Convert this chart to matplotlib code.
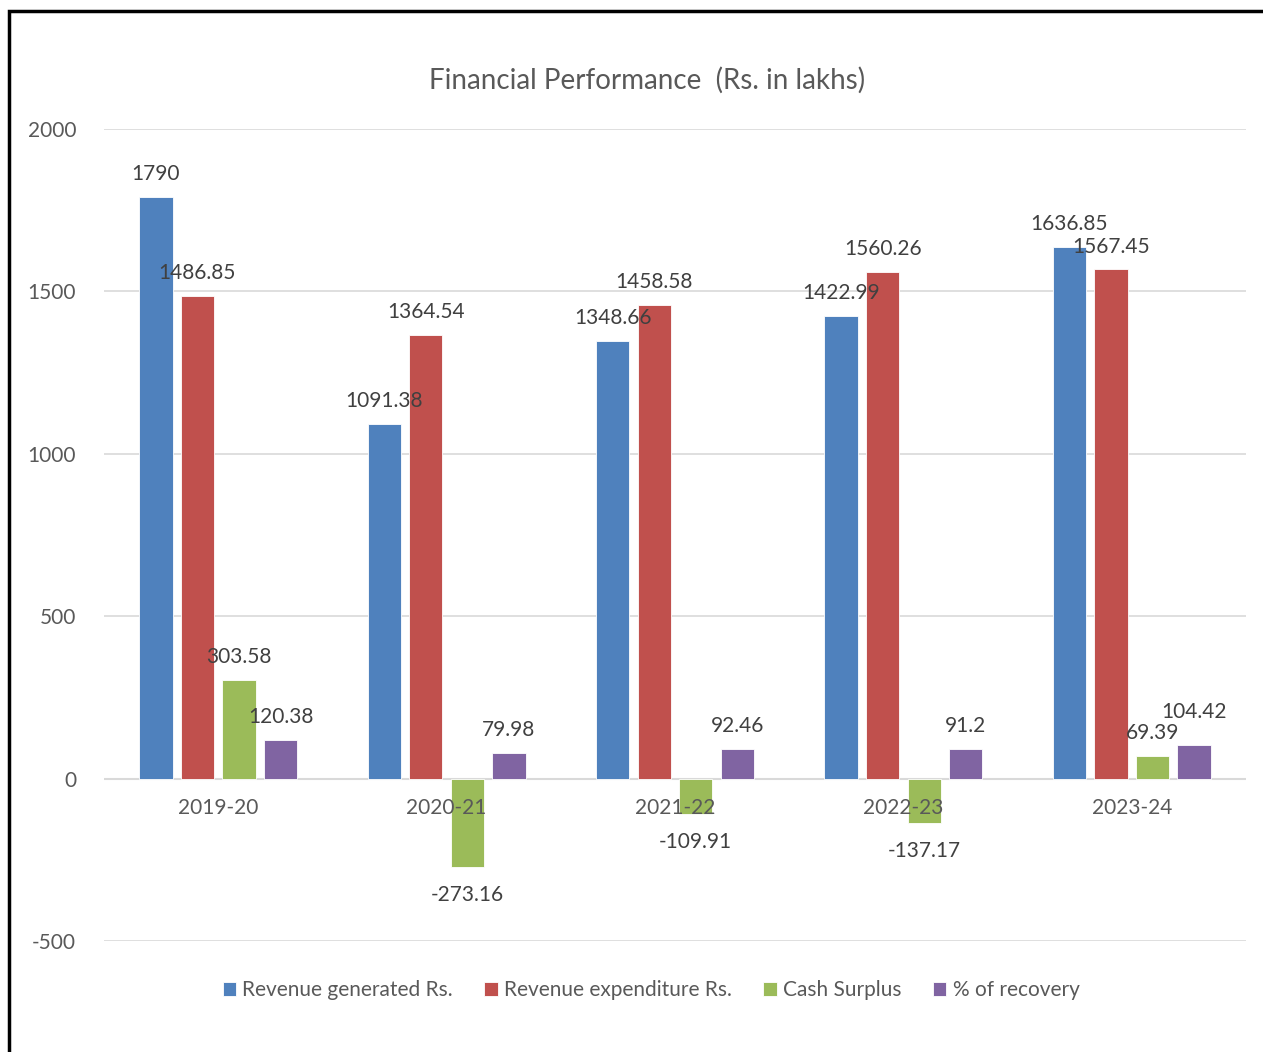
import numpy as np
import matplotlib.pyplot as plt
from matplotlib.patches import Rectangle

# data
years = ["2019-20", "2020-21", "2021-22", "2022-23", "2023-24"]
rev_generated = [1790, 1091.38, 1348.66, 1422.99, 1636.85]
rev_expenditure = [1486.85, 1364.54, 1458.58, 1560.26, 1567.45]
cash_surplus = [303.58, -273.16, -109.91, -137.17, 69.39]
recovery = [120.38, 79.98, 92.46, 91.2, 104.42]

series_names = ["Revenue generated Rs.", "Revenue expenditure Rs.", "Cash Surplus", "% of recovery"]
series = [rev_generated, rev_expenditure, cash_surplus, recovery]
colors = ["#4F81BD", "#C0504D", "#9BBB59", "#8064A2"]

plt.rcParams['font.family'] = ['Lato', 'DejaVu Sans']
gray = "#595959"

fig = plt.figure(figsize=(12.63, 10.52), dpi=100)
ax = fig.add_axes([104/1263, 1-941/1052, (1246-104)/1263, (941-129)/1052])

# outer frame (only top and left visible)
fig.patches.append(Rectangle((9/1263, -0.1), 1.2, 1-11/1052+0.1, transform=fig.transFigure,
                             fill=False, edgecolor="black", linewidth=2.5))

x = np.arange(len(years))
step = 0.182
width = 0.146
for i, (vals, name, c) in enumerate(zip(series, series_names, colors)):
    pos = x + (i - 1.5) * step
    ax.bar(pos, vals, width, color=c, edgecolor="white", linewidth=0.6, label=name, zorder=3)
    for j, (p, v) in enumerate(zip(pos, vals)):
        if v >= 0:
            dy = 40
            if i == 3 and j == 4:
                # label nudged up in the original to clear its neighbour
                dy = 70
            ax.text(p, v + dy, f"{v:g}", ha="center", va="bottom", fontsize=15, color="#404040", zorder=5)
        else:
            ax.text(p, v - 55, f"{v:g}", ha="center", va="top", fontsize=15, color="#404040", zorder=5)

ax.set_xlim(-0.5, 4.5)
ax.set_ylim(-500, 2000)
ax.set_yticks([-500, 0, 500, 1000, 1500, 2000])
ax.set_yticklabels(["-500", "0", "500", "1000", "1500", "2000"])
ax.grid(axis="y", color="#D9D9D9", linewidth=1.2, zorder=0)
ax.axhline(0, color="#D9D9D9", linewidth=1.5, zorder=2)
for s in ax.spines.values():
    s.set_visible(False)
ax.tick_params(axis="both", length=0, labelsize=15, labelcolor=gray)
ax.tick_params(axis="y", pad=20)

# category labels sit just under the zero line, drawn over the bars
ax.set_xticks([])
for xi, yr in zip(x, years):
    ax.text(xi, -60, yr, ha="center", va="top", fontsize=15, color=gray, zorder=4)

fig.text(647/1263, 1-80/1052, "Financial Performance  (Rs. in lakhs)", ha="center", va="center",
         fontsize=20, color=gray)

leg = fig.legend(loc="center", bbox_to_anchor=(651/1263, 1-990/1052), ncol=4, frameon=False,
                 fontsize=15, handlelength=0.65, handleheight=0.65, handletextpad=0.3, columnspacing=1.5)
for t in leg.get_texts():
    t.set_color(gray)

fig.savefig("out.png", dpi=100, facecolor="white")
